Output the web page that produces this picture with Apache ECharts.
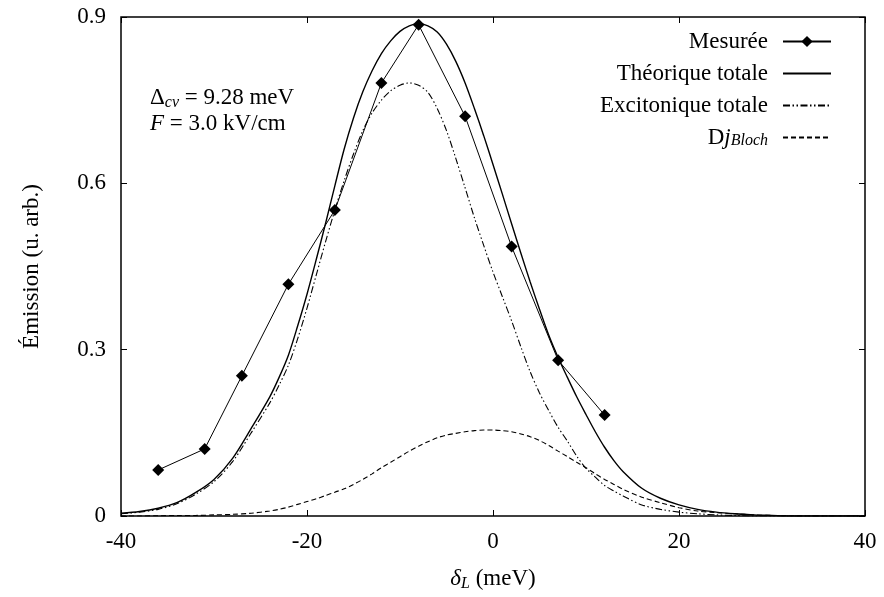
<!DOCTYPE html>
<html>
<head>
<meta charset="utf-8">
<script src="https://cdn.jsdelivr.net/npm/echarts@6/dist/echarts.min.js"></script>
<style>html,body{margin:0;padding:0;background:#fff}#c{width:884px;height:597px}</style>
</head>
<body>
<div id="c"></div>
<script>
// ---- data ----
var measX = [-36, -31, -27, -22, -17, -12, -8, -3, 2, 7, 12];
var measY = [0.083, 0.121, 0.253, 0.418, 0.552, 0.781, 0.886, 0.721, 0.486, 0.281, 0.182];

var curveX = [-40,-38,-36,-34,-32,-30,-28,-26,
  -24,-23,-22,-21,-20,-19,-18,-17,-16,-15,-14,-13,-12,-11,-10,-9,-8,-7,-6,-5,-4,-3,-2,-1,0,1,2,3,4,5,6,7,8,9,10,11,12,13,14,
  16,18,20,22,24,26,28,30,32,34,36,38,40];
var theoY = [0.005,0.008,0.014,0.024,0.042,0.066,0.104,0.158,
  0.215,0.25,0.29,0.343,0.40,0.463,0.528,0.596,0.662,0.718,0.765,0.803,0.834,0.857,0.874,0.884,0.888,0.884,0.873,0.851,0.820,0.781,0.735,0.686,0.634,0.581,0.527,0.474,0.422,0.373,0.326,0.286,0.250,0.215,0.183,0.152,0.124,0.100,0.080,
  0.050,0.032,0.020,0.012,0.007,0.004,0.002,0.001,0,0,0,0,0];
var excY = [0.004,0.007,0.012,0.022,0.039,0.062,0.098,0.150,
  0.204,0.236,0.272,0.32,0.375,0.435,0.495,0.552,0.605,0.653,0.695,0.727,0.750,0.767,0.777,0.781,0.777,0.764,0.735,0.695,0.645,0.592,0.538,0.488,0.440,0.396,0.352,0.305,0.260,0.222,0.190,0.160,0.135,0.108,0.086,0.070,0.055,0.045,0.036,
  0.020,0.012,0.007,0.004,0.002,0.001,0,0,0,0,0,0,0];
var blochY = [0,0,0.0005,0.001,0.001,0.002,0.003,0.005,
  0.009,0.012,0.016,0.021,0.026,0.031,0.037,0.043,0.049,0.057,0.066,0.076,0.087,0.097,0.107,0.117,0.126,0.134,0.141,0.146,0.149,0.152,0.154,0.155,0.155,0.154,0.152,0.148,0.143,0.136,0.127,0.117,0.107,0.097,0.087,0.076,0.066,0.057,0.048,
  0.034,0.024,0.015,0.009,0.006,0.004,0.002,0.001,0.0005,0,0,0,0];

var xTicks = [-40, 40, 20];   // min, max, interval
var yTicks = [0, 0.9, 0.3];

function pairs(xs, ys) { return xs.map(function (x, i) { return [x, ys[i]]; }); }

var FONT = 'Liberation Serif';
var FS = 23;
var richMath = {
  it: { fontFamily: FONT, fontSize: FS, fontStyle: 'italic', color: '#000' },
  sub: { fontFamily: FONT, fontSize: 16, fontStyle: 'italic', color: '#000', verticalAlign: 'bottom', padding: [10, 0, 0, 0] },
  rm: { fontFamily: FONT, fontSize: FS, color: '#000' }
};

var chart = echarts.init(document.getElementById('c'), null, { renderer: 'canvas' });

function axisBase() {
  return {
    type: 'value',
    splitLine: { show: false },
    axisLine: { show: false, onZero: false },
    axisTick: { show: true, inside: true, length: 6, lineStyle: { color: '#000', width: 1 } }
  };
}

var hiddenSymbol = { color: 'rgba(0,0,0,0)', borderWidth: 0, opacity: 0 };

chart.setOption({
  animation: false,
  backgroundColor: '#fff',
  grid: { left: 121, right: 19, top: 17, bottom: 81, show: true, borderColor: '#000', borderWidth: 1.5 },
  xAxis: [
    Object.assign(axisBase(), {
      min: xTicks[0], max: xTicks[1], interval: xTicks[2], position: 'bottom',
      axisLabel: { color: '#000', fontFamily: FONT, fontSize: FS, margin: 14 },
      name: '{it|δ}{sub|L} {rm|(meV)}', nameLocation: 'middle', nameGap: 50,
      nameTextStyle: { fontFamily: FONT, fontSize: FS, color: '#000', rich: richMath }
    }),
    Object.assign(axisBase(), {
      min: xTicks[0], max: xTicks[1], interval: xTicks[2], position: 'top',
      axisLabel: { show: false }
    })
  ],
  yAxis: [
    Object.assign(axisBase(), {
      min: yTicks[0], max: yTicks[1], interval: yTicks[2], position: 'left',
      axisLabel: { color: '#000', fontFamily: FONT, fontSize: FS, margin: 15 },
      name: 'Émission (u. arb.)', nameLocation: 'middle', nameGap: 78, nameRotate: 90,
      nameTextStyle: { fontFamily: FONT, fontSize: FS, color: '#000' }
    }),
    Object.assign(axisBase(), {
      min: yTicks[0], max: yTicks[1], interval: yTicks[2], position: 'right',
      axisLabel: { show: false }
    })
  ],
  legend: {
    orient: 'vertical', align: 'right', right: 52, top: 30, padding: 0,
    itemWidth: 48, itemHeight: 14, itemGap: 9,
    textStyle: { fontFamily: FONT, fontSize: FS, color: '#000', lineHeight: 22, padding: [0, 10, 0, 0], rich: richMath },
    formatter: function (name) {
      if (name === 'Dj_Bloch') return '{rm|D}{it|j}{sub|Bloch}';
      return name;
    },
    data: [
      { name: 'Mesurée' },
      { name: 'Théorique totale', itemStyle: hiddenSymbol },
      { name: 'Excitonique totale', itemStyle: hiddenSymbol },
      { name: 'Dj_Bloch', itemStyle: hiddenSymbol }
    ]
  },
  graphic: [
    { type: 'text', left: 150, top: 86, style: { text: 'Δ{sub|cv} = 9.28 meV', fontFamily: FONT, fontSize: FS, fill: '#000', rich: richMath } },
    { type: 'text', left: 150, top: 112, style: { text: '{it|F} = 3.0 kV/cm', fontFamily: FONT, fontSize: FS, fill: '#000', rich: richMath } }
  ],
  series: [
    {
      name: 'Mesurée', type: 'line', data: pairs(measX, measY),
      symbol: 'diamond', symbolSize: 12, showSymbol: true,
      itemStyle: { color: '#000' }, lineStyle: { color: '#000', width: 1 }, z: 5
    },
    {
      name: 'Théorique totale', type: 'line', data: pairs(curveX, theoY),
      symbol: 'none', smooth: 0.3,
      itemStyle: { color: '#000' }, lineStyle: { color: '#000', width: 1.4 }
    },
    {
      name: 'Excitonique totale', type: 'line', data: pairs(curveX, excY),
      symbol: 'none', smooth: 0.3,
      itemStyle: { color: '#000' }, lineStyle: { color: '#000', width: 1.1, type: [7, 2.5, 1.5, 2.5, 1.5, 2.5] }
    },
    {
      name: 'Dj_Bloch', type: 'line', data: pairs(curveX, blochY),
      symbol: 'none', smooth: 0.3,
      itemStyle: { color: '#000' }, lineStyle: { color: '#000', width: 1.1, type: [5, 3] }
    }
  ]
});
</script>
</body>
</html>
